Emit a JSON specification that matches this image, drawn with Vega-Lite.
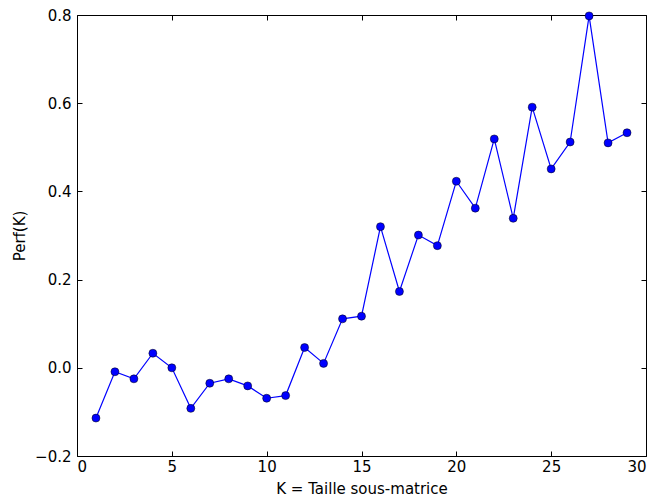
{
  "$schema": "https://vega.github.io/schema/vega-lite/v6.json",
  "width": 569,
  "height": 441,
  "autosize": {"type": "none"},
  "padding": {"left": 77, "top": 15, "right": 12, "bottom": 48},
  "background": "white",
  "config": {
    "font": "DejaVu Sans",
    "view": {"stroke": "black", "strokeWidth": 1},
    "axis": {
      "grid": false,
      "domain": false,
      "tickColor": "black",
      "tickSize": -5,
      "labelColor": "black",
      "labelFont": "DejaVu Sans",
      "labelFontSize": 15,
      "titleFont": "DejaVu Sans",
      "titleFontSize": 15,
      "titleFontWeight": "normal",
      "titleColor": "black"
    }
  },
  "data": {
    "values": [
      {"k": 1, "perf": -0.114},
      {"k": 2, "perf": -0.009},
      {"k": 3, "perf": -0.025},
      {"k": 4, "perf": 0.033},
      {"k": 5, "perf": 0.0},
      {"k": 6, "perf": -0.092},
      {"k": 7, "perf": -0.035},
      {"k": 8, "perf": -0.025},
      {"k": 9, "perf": -0.041},
      {"k": 10, "perf": -0.069},
      {"k": 11, "perf": -0.063},
      {"k": 12, "perf": 0.046},
      {"k": 13, "perf": 0.010},
      {"k": 14, "perf": 0.111},
      {"k": 15, "perf": 0.117},
      {"k": 16, "perf": 0.320},
      {"k": 17, "perf": 0.173},
      {"k": 18, "perf": 0.301},
      {"k": 19, "perf": 0.277},
      {"k": 20, "perf": 0.423},
      {"k": 21, "perf": 0.362},
      {"k": 22, "perf": 0.519},
      {"k": 23, "perf": 0.339},
      {"k": 24, "perf": 0.591},
      {"k": 25, "perf": 0.451},
      {"k": 26, "perf": 0.512},
      {"k": 27, "perf": 0.798},
      {"k": 28, "perf": 0.510},
      {"k": 29, "perf": 0.533}
    ]
  },
  "layer": [
    {
      "mark": {"type": "line", "color": "#0000ff", "strokeWidth": 1.2, "clip": false},
      "encoding": {
        "x": {"field": "k", "type": "quantitative", "scale": {"domain": [0, 30], "nice": false, "zero": false},
              "axis": {"orient": "top", "labels": false, "title": null, "values": [0, 5, 10, 15, 20, 25, 30]}},
        "y": {"field": "perf", "type": "quantitative", "scale": {"domain": [-0.2, 0.8], "nice": false, "zero": false},
              "axis": {"orient": "right", "labels": false, "title": null, "values": [-0.2, 0, 0.2, 0.4, 0.6, 0.8]}}
      }
    },
    {
      "mark": {"type": "circle", "color": "#0000ff", "opacity": 1, "size": 64, "stroke": "black", "strokeWidth": 0.5, "clip": false},
      "encoding": {
        "x": {"field": "k", "type": "quantitative", "scale": {"domain": [0, 30], "nice": false, "zero": false},
              "axis": {"orient": "bottom", "title": "K = Taille sous-matrice", "values": [0, 5, 10, 15, 20, 25, 30], "labelPadding": 8, "titlePadding": 7}},
        "y": {"field": "perf", "type": "quantitative", "scale": {"domain": [-0.2, 0.8], "nice": false, "zero": false},
              "axis": {"orient": "left", "title": "Perf(K)", "values": [-0.2, 0, 0.2, 0.4, 0.6, 0.8], "format": ".1f", "labelPadding": 11, "titlePadding": 7}}
      }
    }
  ],
  "resolve": {"axis": {"x": "independent", "y": "independent"}}
}
